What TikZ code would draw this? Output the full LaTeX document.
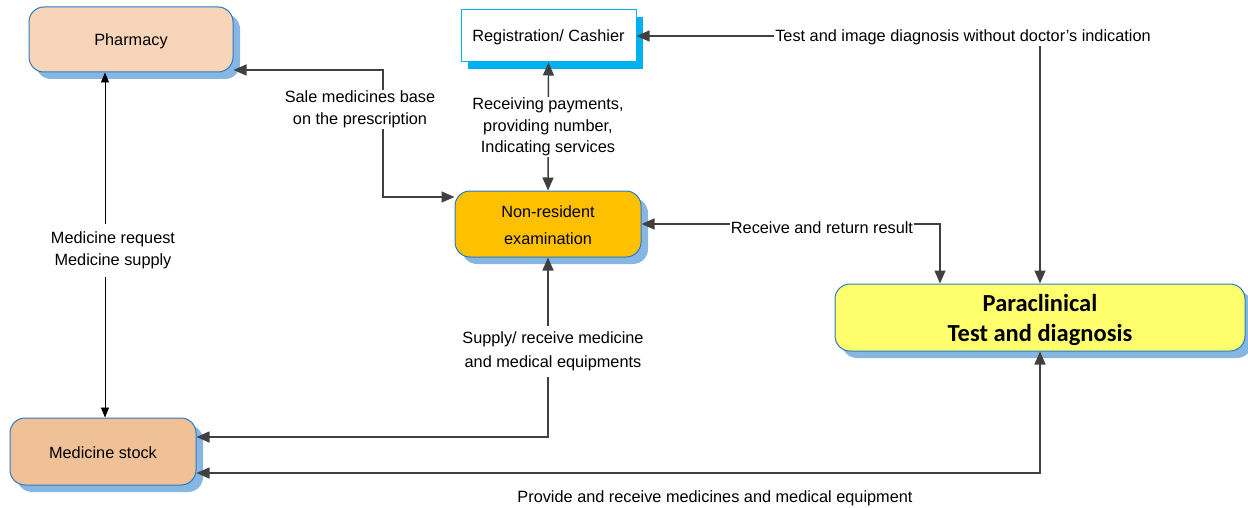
\documentclass[tikz,border=0pt]{standalone}
\usepackage{fontspec}
\setmainfont{Liberation Sans}
\newfontfamily\calfont{Carlito}
\usetikzlibrary{arrows.meta,positioning}
\definecolor{edgeblue}{HTML}{2A7BC4}
\definecolor{shadowblue}{HTML}{86B6E2}
\definecolor{cyanc}{HTML}{00B0F0}
\definecolor{peach}{HTML}{F8D5B8}
\definecolor{stockc}{HTML}{F0C097}
\definecolor{orangec}{HTML}{FFC000}
\definecolor{yellowc}{HTML}{FFFF6E}
\definecolor{linec}{HTML}{404040}
\begin{document}
\begin{tikzpicture}[x=1pt,y=-1pt,
  every node/.style={font=\fontsize{16.3}{20}\selectfont, inner sep=1pt},
  rbox/.style={draw=edgeblue, line width=1pt, rounded corners=15pt},
  txt/.style={align=center, inner sep=0pt},
  conn/.style={draw=linec, line width=1.4pt, {Triangle[length=13pt,width=11pt]}-{Triangle[length=13pt,width=11pt]}},
  thinconn/.style={draw=black, line width=0.9pt, {Triangle[length=10pt,width=8pt]}-{Triangle[length=10pt,width=8pt]}},
  lbl/.style={fill=white, align=center, inner sep=1pt}]
\useasboundingbox (0,0) rectangle (1248,508);
% shadows
\fill[shadowblue, rounded corners=15pt] (36,14) rectangle (240,79);
\fill[cyanc] (468,17) rectangle (643,69);
\fill[shadowblue, rounded corners=15pt] (462,198) rectangle (648,264);
\fill[shadowblue, rounded corners=15pt] (842,291) rectangle (1252,358);
\fill[shadowblue, rounded corners=15pt] (17,425) rectangle (203,492);
% boxes
\node[rbox, fill=peach, minimum width=204pt, minimum height=65pt] (ph) at (131,39.5) {};
\node[txt] (pht) at ([yshift=-2pt]ph.center) {Pharmacy};
\node[draw=cyanc, line width=1pt, fill=white, minimum width=175pt, minimum height=52pt] (reg) at (548.5,36) {};
\node[txt] (regt) at ([yshift=-1.5pt]reg.center) {Registration/ Cashier};
\node[rbox, fill=orangec, minimum width=186pt, minimum height=66pt] (nr) at (548,224) {};
\node[txt, font=\fontsize{16.3}{27}\selectfont] (nrt) at ([yshift=-1.5pt]nr.center) {Non-resident\\examination};
\node[rbox, fill=yellowc, minimum width=410pt, minimum height=67pt] (pc) at (1040,317.5) {};
\node[txt, font=\calfont\bfseries\fontsize{24.5}{30}\selectfont] (pct) at ([yshift=-2pt]pc.center) {Paraclinical\\Test and diagnosis};
\node[rbox, fill=stockc, minimum width=186pt, minimum height=67pt] (ms) at (103,451.5) {};
\node[txt] (mst) at ([yshift=-1.5pt]ms.center) {Medicine stock};
% coordinates
\coordinate (c1) at (1040,36);
\coordinate (c2a) at (383,70);
\coordinate (c2b) at (383,197);
\coordinate (c4) at (940,224);
\coordinate (c6) at (548,437);
\coordinate (c7) at (1040,473);
% connectors
\draw[conn] (reg.east) -- (c1) -- (pc.north -| c1);
\node[lbl] (l1) at (963,37.5) {Test and image diagnosis without doctor's indication};
\draw[conn] (ph.south east |- c2a) -- (c2a) -- (c2b) -- (nr.west |- c2b);
\node[lbl, font=\fontsize{16.3}{22}\selectfont] (l2) at (360,109.5) {Sale medicines base\\on the prescription};
\draw[conn] (reg.south) -- (nr.north);
\node[lbl, font=\fontsize{16.3}{21.5}\selectfont] (l3) at (548,127) {Receiving payments,\\providing number,\\Indicating services};
\draw[conn] (nr.east) -- (c4) -- (pc.north -| c4);
\node[lbl] (l4) at (822,227.5) {Receive and return result};
\draw[thinconn] (ph.south -| 105,0) -- (ms.north -| 105,0);
\node[lbl, font=\fontsize{16.3}{22}\selectfont, inner sep=8pt] (l5) at (113,250.5) {Medicine request\\Medicine supply};
\draw[conn] (nr.south) -- (c6) -- (ms.east |- c6);
\node[lbl, font=\fontsize{16.3}{24}\selectfont, inner xsep=0pt, inner ysep=6pt] (l6) at (553,351.5) {Supply/ receive medicine\\and medical equipments};
\draw[conn] (ms.east |- c7) -- (c7) -- (pc.south -| c7);
\node[inner sep=0pt] (l7) at (715,498.5) {Provide and receive medicines and medical equipment};
\end{tikzpicture}
\end{document}
